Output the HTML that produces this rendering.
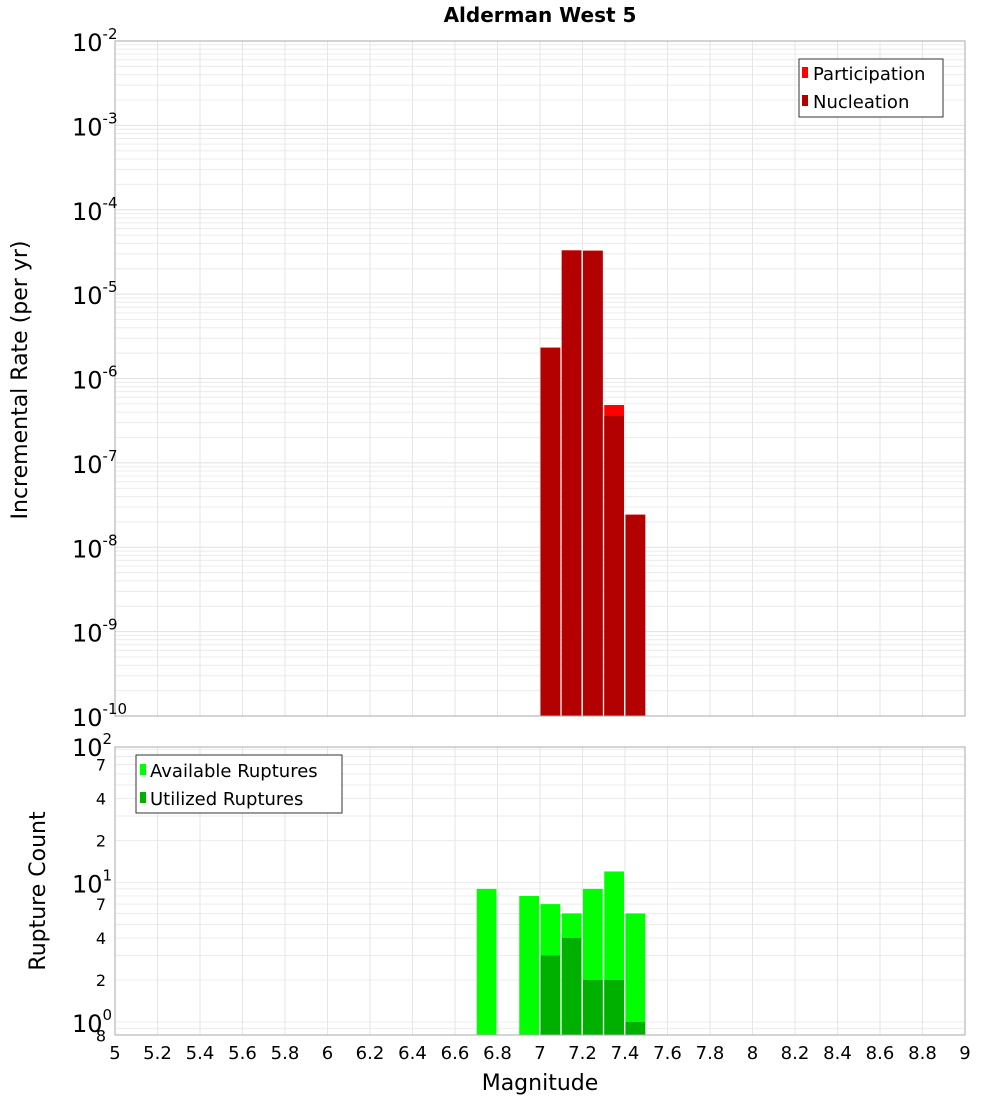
<!DOCTYPE html>
<html><head><meta charset="utf-8"><style>
body{margin:0;background:#fff;font-family:"Liberation Sans","DejaVu Sans",sans-serif}
svg text{font-family:"DejaVu Sans","Liberation Sans",sans-serif}
</style></head><body>
<svg id="chart" width="1000" height="1100" xmlns="http://www.w3.org/2000/svg"></svg>
<script>
const mags = [6.75, 6.95, 7.05, 7.15, 7.25, 7.35, 7.45];
const participation = [null, null, 2.32e-6, 3.3e-5, 3.27e-5, 4.85e-7, 2.43e-8];
const nucleation = [null, null, 2.32e-6, 3.3e-5, 3.27e-5, 3.6e-7, 2.43e-8];
const available = [9, 8, 7, 6, 9, 12, 6];
const utilized = [null, null, 3, 4, 2, 2, 1];
const xTicks = [5,5.2,5.4,5.6,5.8,6,6.2,6.4,6.6,6.8,7,7.2,7.4,7.6,7.8,8,8.2,8.4,8.6,8.8,9];
const topExp = [-2,-3,-4,-5,-6,-7,-8,-9,-10];
const botTicks = [70,40,20,7,4,2,0.8];
const botTickLabels = ["7","4","2","7","4","2","8"];
const botMajor = [10,1];

const NS="http://www.w3.org/2000/svg";
const svg=document.getElementById('chart');
function el(tag,attrs,parent,name,inter){const e=document.createElementNS(NS,tag);for(const k in attrs)e.setAttribute(k,attrs[k]);


(parent||svg).appendChild(e);return e;}
const X0=115,X1=965;
const x=v=>X0+(v-5)/4*(X1-X0);
const T0=41,T1=716;
const yT=v=>T0+(-2-Math.log10(v))*(T1-T0)/8;
const B0=747,B1=1035,bMax=93.6,bMin=0.807;
const yB=v=>B0+(Math.log10(bMax)-Math.log10(v))*(B1-B0)/(Math.log10(bMax)-Math.log10(bMin));

// title
let t=el('text',{x:540,y:22,'font-size':20,'font-weight':'bold','text-anchor':'middle'},svg,'chart-title');t.textContent='Alderman West 5';

// top plot
const gT=el('g',{},svg,'rate-plot');
el('rect',{x:X0,y:T0,width:X1-X0,height:T1-T0,fill:'#fff'},gT,'rate-plot-background');
for(let e=-10;e<-2;e++)for(let m=1;m<10;m++){const yy=yT(m*Math.pow(10,e));
el('line',{x1:X0,x2:X1,y1:yy,y2:yy,stroke:m==1?'#e0e0e0':'#ececec','stroke-width':1},gT,'rate-gridline');}
xTicks.forEach(v=>el('line',{x1:x(v),x2:x(v),y1:T0,y2:T1,stroke:'#e6e6e6'},gT,'rate-x-gridline'));
mags.forEach((m,i)=>{
 if(participation[i]!=null){const yy=yT(participation[i]);el('rect',{x:x(m-0.05)+0.5,y:yy,width:x(m+0.05)-x(m-0.05)-1.5,height:T1-yy,fill:'#ff0000'},gT,'participation-bar');}
 if(nucleation[i]!=null){const yy=yT(nucleation[i]);el('rect',{x:x(m-0.05)+0.5,y:yy,width:x(m+0.05)-x(m-0.05)-1.5,height:T1-yy,fill:'#b30000'},gT,'nucleation-bar');}
});
el('rect',{x:X0,y:T0,width:X1-X0,height:T1-T0,fill:'none',stroke:'#aaa'},gT,'rate-plot-border');
topExp.forEach(e=>{const yy=yT(Math.pow(10,e));
 const tx=el('text',{x:104,y:yy+10,'font-size':24,'text-anchor':'end'},gT,'rate-tick-label');
 tx.textContent='10';
 const s=el('tspan',{dy:-12,'font-size':15},tx,'rate-tick-exponent');s.textContent=String(e);
 tx.setAttribute('x',72);tx.setAttribute('text-anchor','start');
});
t=el('text',{x:0,y:0,'font-size':22,'text-anchor':'middle',transform:'translate(27,380) rotate(-90)'},gT,'rate-y-axis-title');t.textContent='Incremental Rate (per yr)';
// legend top
const lT=el('g',{},gT,'rate-legend');
el('rect',{x:799,y:59,width:144,height:58,fill:'#fff',stroke:'#333'},lT,'rate-legend-box');
el('rect',{x:802,y:67,width:6,height:11,fill:'#ff0000'},lT,'legend-participation-swatch');
t=el('text',{x:813,y:80,'font-size':18},lT,'legend-participation');t.textContent='Participation';
el('rect',{x:802,y:95,width:6,height:11,fill:'#b30000'},lT,'legend-nucleation-swatch');
t=el('text',{x:813,y:108,'font-size':18},lT,'legend-nucleation');t.textContent='Nucleation';

// bottom plot
const gB=el('g',{},svg,'count-plot');
el('rect',{x:X0,y:B0,width:X1-X0,height:B1-B0,fill:'#fff'},gB,'count-plot-background');
for(let e=-1;e<2;e++)for(let m=1;m<10;m++){const v=m*Math.pow(10,e);if(v<bMin||v>bMax)continue;const yy=yB(v);
el('line',{x1:X0,x2:X1,y1:yy,y2:yy,stroke:'#ececec'},gB,'count-gridline');}
xTicks.forEach(v=>el('line',{x1:x(v),x2:x(v),y1:B0,y2:B1,stroke:'#e6e6e6'},gB,'count-x-gridline'));
mags.forEach((m,i)=>{
 const yy=yB(available[i]);el('rect',{x:x(m-0.05)+0.5,y:yy,width:x(m+0.05)-x(m-0.05)-1.5,height:B1-yy,fill:'#00ff00'},gB,'available-bar');
 if(utilized[i]!=null){const y2=yB(utilized[i]);el('rect',{x:x(m-0.05)+0.5,y:y2,width:x(m+0.05)-x(m-0.05)-1.5,height:B1-y2,fill:'#00b000'},gB,'utilized-bar');}
});
el('rect',{x:X0,y:B0,width:X1-X0,height:B1-B0,fill:'none',stroke:'#aaa'},gB,'count-plot-border');
botTicks.forEach((v,i)=>{t=el('text',{x:106,y:yB(v)+6,'font-size':16,'text-anchor':'end'},gB,'count-tick-label');t.textContent=botTickLabels[i];});
botMajor.forEach(v=>{const tx=el('text',{x:72,y:yB(v)+10,'font-size':24},gB,'count-major-tick-label');tx.textContent='10';
 const s=el('tspan',{dy:-12,'font-size':15},tx,'count-tick-exponent');s.textContent=String(Math.log10(v));});
{const tx=el('text',{x:72,y:B0+9,'font-size':24},gB,'count-major-tick-label');tx.textContent='10';
 const s=el('tspan',{dy:-12,'font-size':15},tx,'count-tick-exponent');s.textContent='2';}
t=el('text',{x:0,y:0,'font-size':22,'text-anchor':'middle',transform:'translate(45,891) rotate(-90)'},gB,'count-y-axis-title');t.textContent='Rupture Count';
const lB=el('g',{},gB,'count-legend');
el('rect',{x:136,y:755,width:206,height:58,fill:'#fff',stroke:'#333'},lB,'count-legend-box');
el('rect',{x:140,y:764,width:6,height:11,fill:'#00ff00'},lB,'legend-available-swatch');
t=el('text',{x:150,y:777,'font-size':18},lB,'legend-available');t.textContent='Available Ruptures';
el('rect',{x:140,y:792,width:6,height:11,fill:'#00b000'},lB,'legend-utilized-swatch');
t=el('text',{x:150,y:805,'font-size':18},lB,'legend-utilized');t.textContent='Utilized Ruptures';

xTicks.forEach(v=>{t=el('text',{x:x(v),y:1059,'font-size':18,'text-anchor':'middle'},svg,'x-tick-label');t.textContent=String(v);});
t=el('text',{x:540,y:1090,'font-size':22,'text-anchor':'middle'},svg,'x-axis-title');t.textContent='Magnitude';
</script>
</body></html>
